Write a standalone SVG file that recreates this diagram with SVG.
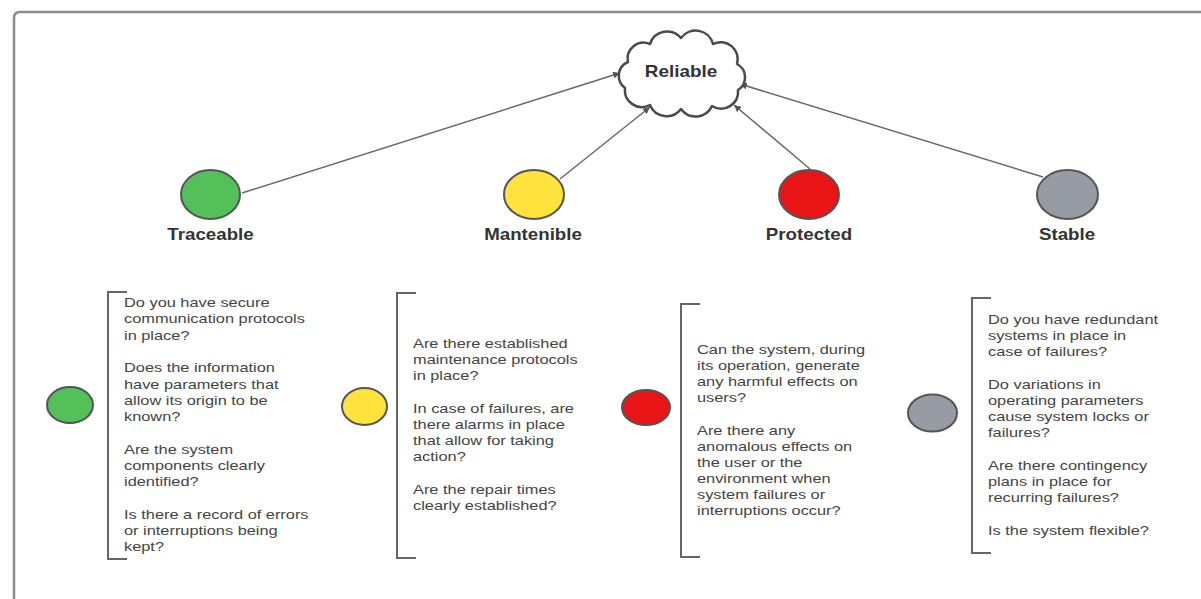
<svg xmlns="http://www.w3.org/2000/svg" width="1201" height="599" viewBox="0 0 1201 599">
  <style>
    .frame { fill: none; stroke: #8c8c8c; stroke-width: 2.5; }
    .node { stroke: #555; stroke-width: 2; }
    .cloud { fill: #fff; stroke: #4a4a4a; stroke-width: 2.5; stroke-linejoin: round; }
    .edge { stroke: #666; stroke-width: 1.5; fill: none; marker-end: url(#arrow); }
    .bracket { fill: none; stroke: #666; stroke-width: 2; }
    .title { font-family: "Liberation Sans", Arial, sans-serif; font-weight: bold; font-size: 16px; fill: #333; }
    .q { font-family: "Liberation Sans", Arial, sans-serif; font-size: 13px; fill: #444; }
    .green { fill: #53c05a; }
    .yellow { fill: #ffe23b; }
    .red { fill: #e81416; }
    .gray { fill: #979ca4; }
  </style>
  <defs>
    <marker id="arrow" viewBox="0 0 10 10" refX="10" refY="5" markerWidth="7" markerHeight="7" markerUnits="userSpaceOnUse" orient="auto">
      <path d="M0,0 L10,5 L0,10 z" fill="#555"/>
    </marker>
  </defs>

  <rect width="1201" height="599" fill="#fff"/>
  <!-- outer frame, open at the right and bottom -->
  <path class="frame" d="M14,605 L14,18 Q14,12 20,12 L1210,12"/>

  <!-- connectors -->
  <g id="connectors">
    <line class="edge" x1="242" y1="193" x2="620" y2="73"/>
    <line class="edge" x1="560" y1="179" x2="650" y2="107"/>
    <line class="edge" x1="810" y1="169" x2="734" y2="105"/>
    <line class="edge" x1="1043" y1="177" x2="740" y2="84"/>
  </g>

  <g id="reliable">
    <path class="cloud" d="M628,62 A16,16 0 0 1 650,44 A18,18 0 0 1 681,38 A18,18 0 0 1 713,44 A17,17 0 0 1 737,64 A15,15 0 0 1 738,90 A17,17 0 0 1 712,106 A18,18 0 0 1 681,109 A18,18 0 0 1 650,105 A17,17 0 0 1 625,88 A15,15 0 0 1 628,62 Z"/>
    <text class="title" font-size="15" text-anchor="middle" transform="translate(681,77) scale(1.18,1)">Reliable</text>
  </g>

  <g id="traceable">
    <ellipse class="node green" cx="210.5" cy="194.5" rx="29.5" ry="24.5"/>
    <text class="title" text-anchor="middle" transform="translate(210.5,240) scale(1.17,1)">Traceable</text>
  </g>
  <g id="mantenible">
    <ellipse class="node yellow" cx="534" cy="194.5" rx="30" ry="24.5"/>
    <text class="title" text-anchor="middle" transform="translate(533,240) scale(1.17,1)">Mantenible</text>
  </g>
  <g id="protected">
    <ellipse class="node red" cx="809" cy="194.5" rx="30" ry="24.5"/>
    <text class="title" text-anchor="middle" transform="translate(809,240) scale(1.17,1)">Protected</text>
  </g>
  <g id="stable">
    <ellipse class="node gray" cx="1067.5" cy="194.5" rx="30.5" ry="24.5"/>
    <text class="title" text-anchor="middle" transform="translate(1067,240) scale(1.17,1)">Stable</text>
  </g>

  <!-- question lists -->
  <g id="traceable-questions">
    <ellipse class="node green" cx="70" cy="405" rx="23" ry="18"/>
    <path class="bracket" d="M127,292 L108,292 L108,559 L127,559"/>
    <text class="q" transform="translate(124,0) scale(1.26,1)">
      <tspan x="0" y="307">Do you have secure</tspan>
      <tspan x="0" y="323">communication protocols</tspan>
      <tspan x="0" y="340">in place?</tspan>
      <tspan x="0" y="372">Does the information</tspan>
      <tspan x="0" y="389">have parameters that</tspan>
      <tspan x="0" y="405">allow its origin to be</tspan>
      <tspan x="0" y="421">known?</tspan>
      <tspan x="0" y="454">Are the system</tspan>
      <tspan x="0" y="470">components clearly</tspan>
      <tspan x="0" y="486">identified?</tspan>
      <tspan x="0" y="519">Is there a record of errors</tspan>
      <tspan x="0" y="535">or interruptions being</tspan>
      <tspan x="0" y="551">kept?</tspan>
    </text>
  </g>

  <g id="mantenible-questions">
    <ellipse class="node yellow" cx="364.5" cy="406.5" rx="22.5" ry="18.5"/>
    <path class="bracket" d="M416,293 L397,293 L397,558 L416,558"/>
    <text class="q" transform="translate(413,0) scale(1.26,1)">
      <tspan x="0" y="348">Are there established</tspan>
      <tspan x="0" y="364">maintenance protocols</tspan>
      <tspan x="0" y="380">in place?</tspan>
      <tspan x="0" y="413">In case of failures, are</tspan>
      <tspan x="0" y="429">there alarms in place</tspan>
      <tspan x="0" y="445">that allow for taking</tspan>
      <tspan x="0" y="461">action?</tspan>
      <tspan x="0" y="494">Are the repair times</tspan>
      <tspan x="0" y="510">clearly established?</tspan>
    </text>
  </g>

  <g id="protected-questions">
    <ellipse class="node red" cx="646" cy="407.5" rx="24" ry="17.5"/>
    <path class="bracket" d="M700,304 L681,304 L681,557 L700,557"/>
    <text class="q" transform="translate(697,0) scale(1.26,1)">
      <tspan x="0" y="354">Can the system, during</tspan>
      <tspan x="0" y="370">its operation, generate</tspan>
      <tspan x="0" y="386">any harmful effects on</tspan>
      <tspan x="0" y="402">users?</tspan>
      <tspan x="0" y="435">Are there any</tspan>
      <tspan x="0" y="451">anomalous effects on</tspan>
      <tspan x="0" y="467">the user or the</tspan>
      <tspan x="0" y="483">environment when</tspan>
      <tspan x="0" y="499">system failures or</tspan>
      <tspan x="0" y="515">interruptions occur?</tspan>
    </text>
  </g>

  <g id="stable-questions">
    <ellipse class="node gray" cx="932.5" cy="413" rx="24.5" ry="18.5"/>
    <path class="bracket" d="M991,298 L972,298 L972,553 L991,553"/>
    <text class="q" transform="translate(988,0) scale(1.26,1)">
      <tspan x="0" y="324">Do you have redundant</tspan>
      <tspan x="0" y="340">systems in place in</tspan>
      <tspan x="0" y="356">case of failures?</tspan>
      <tspan x="0" y="389">Do variations in</tspan>
      <tspan x="0" y="405">operating parameters</tspan>
      <tspan x="0" y="421">cause system locks or</tspan>
      <tspan x="0" y="437">failures?</tspan>
      <tspan x="0" y="470">Are there contingency</tspan>
      <tspan x="0" y="486">plans in place for</tspan>
      <tspan x="0" y="502">recurring failures?</tspan>
      <tspan x="0" y="535">Is the system flexible?</tspan>
    </text>
  </g>
</svg>
